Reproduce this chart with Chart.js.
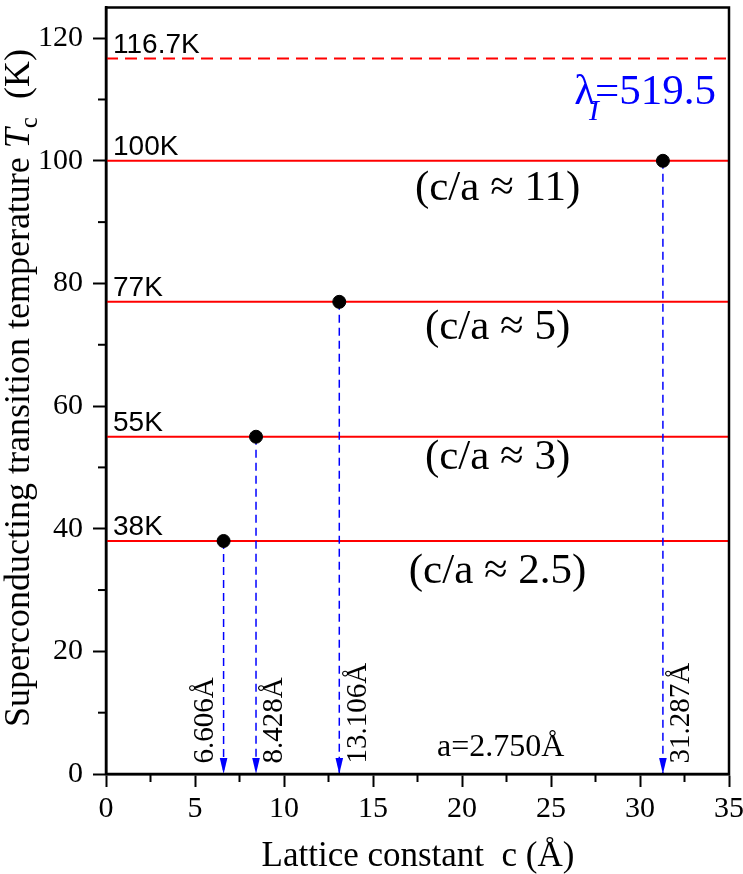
<!DOCTYPE html>
<html>
<head>
<meta charset="utf-8">
<script src="https://cdn.jsdelivr.net/npm/chart.js@4.4.0/dist/chart.umd.min.js"></script>
<style>
  body { margin: 0; background: #fff; }
  #wrap { width: 743px; height: 874px; }
</style>
</head>
<body>
<div id="wrap"><canvas id="tcChart"></canvas></div>
<script>
// Tc levels (K) and the matching lattice constant c (Å)
const tcLevels = [38, 55, 77, 100];
const latticeC = [6.606, 8.428, 13.106, 31.287];
const tcLabels = ['38K', '55K', '77K', '100K'];
const cLabels = ['6.606Å', '8.428Å', '13.106Å', '31.287Å'];
const ratioLabels = ['(c/a ≈ 2.5)', '(c/a ≈ 3)', '(c/a ≈ 5)', '(c/a ≈ 11)'];
const tcLimit = 116.7;
const tcLimitLabel = '116.7K';
const lambdaValue = '519.5';
const aLabel = 'a=2.750Å';

// axis ticks
const xTicks = [0, 5, 10, 15, 20, 25, 30, 35];
const xMinorTicks = [2.5, 7.5, 12.5, 17.5, 22.5, 27.5, 32.5];
const yTicks = [0, 20, 40, 60, 80, 100, 120];
const yMinorTicks = [10, 30, 50, 70, 90, 110];

const SERIF = '"Liberation Serif", "Times New Roman", serif';
const SANS = '"Liberation Sans", Arial, sans-serif';

// where the annotation texts sit (data units)
const ratioPos = { x: 22, y: [33, 51.6, 72.8, 95.5] };
const cLabelOffset = [-1.05, 1.05, 1.05, 1.05];

const datasets = [];

// measured points
datasets.push({
    label: 'points',
    data: latticeC.map((c, i) => ({ x: c, y: tcLevels[i] })),
    showLine: false,
    pointRadius: 6.5,
    pointBackgroundColor: '#000',
    pointBorderColor: '#000',
    order: 0
});

// horizontal Tc lines
tcLevels.forEach((t) => {
    datasets.push({
        data: [{ x: 0, y: t }, { x: 35, y: t }],
        showLine: true,
        borderColor: '#ff0000',
        borderWidth: 2,
        pointRadius: 0,
        order: 2
    });
});
datasets.push({
    data: [{ x: 0, y: tcLimit }, { x: 35, y: tcLimit }],
    showLine: true,
    borderColor: '#ff0000',
    borderWidth: 2,
    borderDash: [12, 7],
    pointRadius: 0,
    order: 2
});

// blue dashed drop lines
latticeC.forEach((c, i) => {
    datasets.push({
        data: [{ x: c, y: tcLevels[i] }, { x: c, y: 0 }],
        showLine: true,
        borderColor: '#0000ff',
        borderWidth: 1.5,
        borderDash: [8, 5],
        pointRadius: 0,
        order: 1
    });
});

// arrowheads, frame, annotations, minor ticks, axis titles
const annotatePlugin = {
    id: 'annotate',
    afterDatasetsDraw(chart) {
        const { ctx, scales: { x, y } } = chart;
        ctx.save();
        ctx.fillStyle = '#0000ff';
        latticeC.forEach((c) => {
            const px = x.getPixelForValue(c);
            const py = y.getPixelForValue(0);
            ctx.beginPath();
            ctx.moveTo(px, py);
            ctx.lineTo(px - 3.8, py - 16);
            ctx.lineTo(px + 3.8, py - 16);
            ctx.closePath();
            ctx.fill();
        });
        ctx.restore();
    },
    afterDraw(chart) {
        const { ctx, chartArea: area, scales: { x, y } } = chart;
        ctx.save();

        // frame
        ctx.strokeStyle = '#000';
        ctx.lineWidth = 2.5;
        ctx.strokeRect(area.left, area.top, area.right - area.left, area.bottom - area.top);

        // minor ticks
        ctx.lineWidth = 2;
        xMinorTicks.forEach((v) => {
            const px = x.getPixelForValue(v);
            ctx.beginPath();
            ctx.moveTo(px, area.bottom);
            ctx.lineTo(px, area.bottom + 8);
            ctx.stroke();
        });
        yMinorTicks.forEach((v) => {
            const py = y.getPixelForValue(v);
            ctx.beginPath();
            ctx.moveTo(area.left, py);
            ctx.lineTo(area.left - 8, py);
            ctx.stroke();
        });

        // Tc level labels
        ctx.fillStyle = '#000';
        ctx.font = '28px ' + SANS;
        ctx.textAlign = 'left';
        ctx.textBaseline = 'alphabetic';
        tcLevels.forEach((t, i) => {
            ctx.fillText(tcLabels[i], area.left + 7, y.getPixelForValue(t) - 6);
        });
        ctx.fillText(tcLimitLabel, area.left + 7, y.getPixelForValue(tcLimit) - 5);

        // c/a ratio labels
        ctx.font = '43px ' + SERIF;
        ctx.textAlign = 'center';
        ctx.textBaseline = 'middle';
        ratioLabels.forEach((s, i) => {
            ctx.fillText(s, x.getPixelForValue(ratioPos.x), y.getPixelForValue(ratioPos.y[i]));
        });

        // lambda label
        ctx.fillStyle = '#0000ff';
        ctx.textAlign = 'left';
        ctx.textBaseline = 'alphabetic';
        const lx = x.getPixelForValue(26.3);
        const ly = y.getPixelForValue(109.3);
        ctx.font = '43px ' + SERIF;
        ctx.fillText('λ', lx, ly);
        const lw = ctx.measureText('λ').width;
        ctx.font = 'italic 30px ' + SERIF;
        ctx.fillText('I', lx + lw - 6, ly + 16);
        ctx.font = '43px ' + SERIF;
        ctx.fillText('=' + lambdaValue, lx + lw, ly);

        // a label
        ctx.fillStyle = '#000';
        ctx.font = '32px ' + SERIF;
        ctx.fillText(aLabel, x.getPixelForValue(18.6), y.getPixelForValue(2.9));

        // rotated c labels
        ctx.font = '29px ' + SERIF;
        ctx.textBaseline = 'middle';
        latticeC.forEach((c, i) => {
            ctx.save();
            ctx.translate(x.getPixelForValue(c + cLabelOffset[i]), y.getPixelForValue(1.7));
            ctx.rotate(-Math.PI / 2);
            ctx.fillText(cLabels[i], 0, 0);
            ctx.restore();
        });

        // x axis title
        ctx.font = '35px ' + SERIF;
        ctx.textAlign = 'center';
        ctx.textBaseline = 'alphabetic';
        ctx.fillText('Lattice constant  c (Å)', 418, 866);

        // y axis title, with italic T and subscript c
        ctx.save();
        ctx.translate(29, 727);
        ctx.rotate(-Math.PI / 2);
        ctx.textAlign = 'left';
        let pos = 0;
        ctx.font = '36px ' + SERIF;
        const p1 = 'Superconducting transition temperature ';
        ctx.fillText(p1, pos, 0);
        pos += ctx.measureText(p1).width;
        ctx.font = 'italic 36px ' + SERIF;
        ctx.fillText('T', pos, 0);
        pos += ctx.measureText('T').width;
        ctx.font = '25px ' + SERIF;
        ctx.fillText('c', pos, 8);
        pos += ctx.measureText('c').width;
        ctx.font = '36px ' + SERIF;
        ctx.fillText('  (K)', pos, 0);
        ctx.restore();

        ctx.restore();
    }
};

const ctx = document.getElementById('tcChart').getContext('2d');
const tcChart = new Chart(ctx, {
    type: 'scatter',
    data: { datasets: datasets },
    options: {
        responsive: true,
        maintainAspectRatio: false,
        animation: false,
        layout: { padding: { top: 4, right: 14, left: 0, bottom: 0 } },
        plugins: { legend: { display: false }, tooltip: { enabled: false } },
        scales: {
            x: {
                type: 'linear',
                min: 0,
                max: 35,
                afterBuildTicks: (s) => { s.ticks = xTicks.map((v) => ({ value: v })); },
                afterFit: (s) => {
                    s.height = 100;
                    s.paddingLeft = 0; s.paddingRight = 0;
                },
                grid: { display: true, drawOnChartArea: false, drawTicks: true, tickLength: 13, tickWidth: 2, tickColor: '#000' },
                border: { display: true, color: '#000', width: 2.5 },
                ticks: {
                    autoSkip: false,
                    maxRotation: 0,
                    padding: 4,
                    color: '#000',
                    font: { family: SERIF, size: 30 }
                }
            },
            y: {
                type: 'linear',
                min: 0,
                max: 125,
                afterBuildTicks: (s) => { s.ticks = yTicks.map((v) => ({ value: v })); },
                afterFit: (s) => {
                    s.width = 106;
                    s.paddingTop = 0; s.paddingBottom = 0;
                },
                grid: { display: true, drawOnChartArea: false, drawTicks: true, tickLength: 13, tickWidth: 2, tickColor: '#000' },
                border: { display: true, color: '#000', width: 2.5 },
                ticks: {
                    autoSkip: false,
                    padding: 10,
                    color: '#000',
                    font: { family: SERIF, size: 30 }
                }
            }
        }
    },
    plugins: [annotatePlugin]
});
</script>
</body>
</html>
